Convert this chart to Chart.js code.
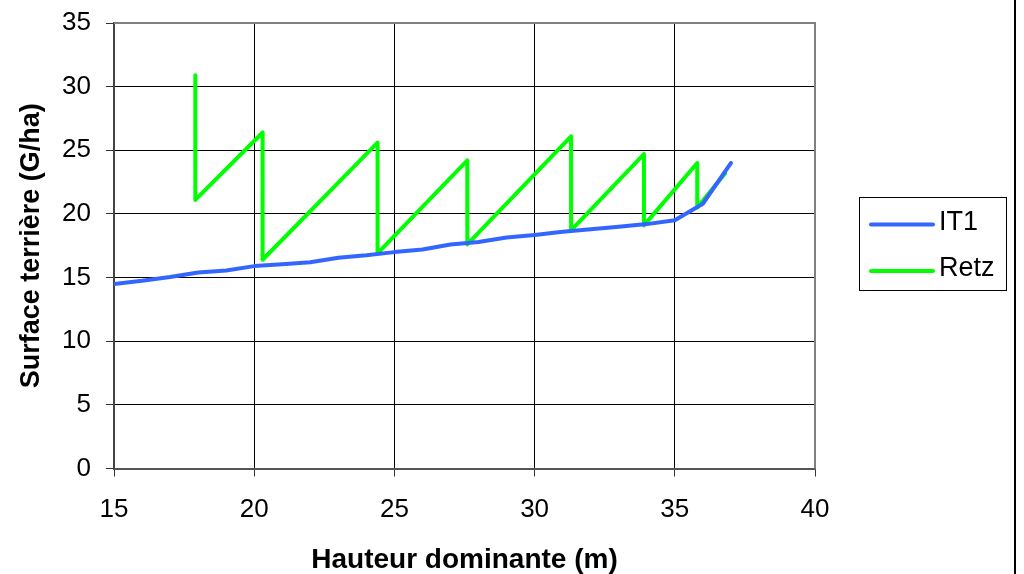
<!DOCTYPE html>
<html lang="fr">
<head>
    <meta charset="UTF-8">
    <title>Surface terrière - IT1 / Retz</title>
    <script src="https://cdn.jsdelivr.net/npm/chart.js"></script>
    <style>
        html, body { margin: 0; padding: 0; background: #fff; }
        .wrap { position: relative; width: 1024px; height: 574px; }
    </style>
</head>
<body>
    <div class="wrap"><canvas id="chart" width="1024" height="574"></canvas></div>

    <script>
        // IT1 reference curve
        const it1Height = [15, 16, 17, 18, 19, 20, 21, 22, 23, 24, 25, 26, 27, 28, 29, 30, 31, 32, 33, 34, 35, 36, 37];
        const it1Area = [14.5, 14.75, 15.05, 15.4, 15.55, 15.9, 16.05, 16.2, 16.55, 16.75, 17.0, 17.2, 17.6, 17.8, 18.15, 18.35, 18.6, 18.8, 19.0, 19.2, 19.5, 20.8, 24.0];

        // Retz thinning sawtooth
        const retzHeight = [17.9, 17.9, 20.3, 20.3, 24.4, 24.4, 27.6, 27.6, 31.3, 31.3, 33.9, 33.9, 35.8, 35.8, 36.8];
        const retzArea = [30.9, 21.1, 26.4, 16.4, 25.6, 16.9, 24.2, 17.6, 26.1, 18.7, 24.7, 19.1, 24.0, 20.5, 23.2];

        const seriesNames = ["IT1", "Retz"];
        const seriesColors = ["#3366FF", "#00FF00"];

        const xTitle = "Hauteur dominante (m)";
        const yTitle = "Surface terrière (G/ha)";

        const toPoints = (xs, ys) => xs.map((x, i) => ({ x: x, y: ys[i] }));

        const FONT = "'Liberation Sans', Arial, sans-serif";

        // legend box + outer frame line
        const frameLegend = {
            id: "frameLegend",
            afterDraw(chart) {
                const ctx = chart.ctx;
                const area = chart.chartArea;
                ctx.save();
                // plot area border (top / right)
                ctx.strokeStyle = "#808080";
                ctx.lineWidth = 2;
                ctx.beginPath();
                ctx.moveTo(area.left, area.top);
                ctx.lineTo(area.right, area.top);
                ctx.lineTo(area.right, area.bottom);
                ctx.stroke();

                // outer frame right edge
                ctx.strokeStyle = "#000";
                ctx.lineWidth = 2;
                ctx.beginPath();
                ctx.moveTo(1015, 0);
                ctx.lineTo(1015, 574);
                ctx.stroke();

                // legend
                const bx = 859.5, by = 197.5, bw = 147, bh = 93;
                ctx.lineWidth = 1;
                ctx.strokeStyle = "#000";
                ctx.fillStyle = "#fff";
                ctx.fillRect(bx, by, bw, bh);
                ctx.strokeRect(bx, by, bw, bh);
                ctx.font = "27px " + FONT;
                ctx.textBaseline = "middle";
                chart.data.datasets.forEach((ds, i) => {
                    const y = 224.5 + i * 46.5;
                    ctx.strokeStyle = ds.borderColor;
                    ctx.lineWidth = 4;
                    ctx.lineCap = "round";
                    ctx.beginPath();
                    ctx.moveTo(871, y);
                    ctx.lineTo(933, y);
                    ctx.stroke();
                    ctx.fillStyle = "#000";
                    ctx.fillText(ds.label, 939, y - 2);
                });
                ctx.restore();
            }
        };

        new Chart(document.getElementById("chart"), {
            type: "scatter",
            data: {
                datasets: [
                    {
                        label: seriesNames[0],
                        data: toPoints(it1Height, it1Area),
                        borderColor: seriesColors[0],
                        backgroundColor: seriesColors[0],
                        borderWidth: 4,
                        showLine: true,
                        pointRadius: 0,
                        tension: 0,
                        borderCapStyle: "round",
                        borderJoinStyle: "round"
                    },
                    {
                        label: seriesNames[1],
                        data: toPoints(retzHeight, retzArea),
                        borderColor: seriesColors[1],
                        backgroundColor: seriesColors[1],
                        borderWidth: 4,
                        showLine: true,
                        pointRadius: 0,
                        tension: 0,
                        borderCapStyle: "round",
                        borderJoinStyle: "round"
                    }
                ]
            },
            options: {
                responsive: false,
                animation: false,
                layout: { padding: { top: 23, right: 209, bottom: 0, left: 0 } },
                plugins: {
                    legend: { display: false },
                    tooltip: { enabled: false }
                },
                scales: {
                    x: {
                        type: "linear",
                        min: 15,
                        max: 40,
                        ticks: { stepSize: 5, padding: 18, color: "#000", font: { family: FONT, size: 26 } },
                        grid: { color: "#000", lineWidth: 1, tickLength: 8, tickColor: "#333" },
                        border: { color: "#555", width: 2 },
                        title: { display: true, text: xTitle, color: "#000", font: { family: FONT, size: 28, weight: "bold", lineHeight: 1 }, padding: { top: 0, bottom: 0 } },
                        afterFit(scale) {
                            scale.height = 105.5;
                            scale.paddingLeft = 0;
                            scale.paddingRight = 0;
                        }
                    },
                    y: {
                        min: 0,
                        max: 35,
                        ticks: { stepSize: 5, padding: 15, color: "#000", font: { family: FONT, size: 26 } },
                        grid: { color: "#000", lineWidth: 1, tickLength: 8, tickColor: "#333" },
                        border: { color: "#444", width: 2 },
                        title: { display: true, text: yTitle, color: "#000", font: { family: FONT, size: 27, weight: "bold", lineHeight: 1 }, padding: { top: 18, bottom: 0 } },
                        afterFit(scale) {
                            scale.width = 114;
                            scale.paddingTop = 0;
                            scale.paddingBottom = 0;
                        }
                    }
                }
            },
            plugins: [frameLegend]
        });
    </script>
</body>
</html>
